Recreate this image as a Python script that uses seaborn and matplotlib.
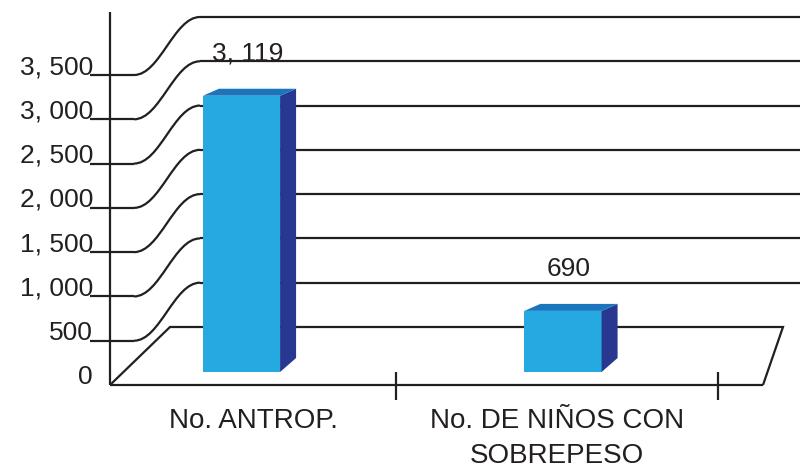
import numpy as np
import pandas as pd
import matplotlib
matplotlib.use("Agg")
import matplotlib.pyplot as plt
import seaborn as sns
from matplotlib.patches import Polygon, PathPatch
from matplotlib.path import Path
from matplotlib.transforms import IdentityTransform

# ---- data ----
categories = ["No. ANTROP.", "No. DE NIÑOS CON\nSOBREPESO"]
values = [3119, 690]
ytick_values = [0, 500, 1000, 1500, 2000, 2500, 3000, 3500]

sns.set_theme(style="white")
plt.rcParams["font.family"] = ["Liberation Sans", "DejaVu Sans"]

INK = "#231f20"
FRONT_C = "#25a9e0"
SIDE_C = "#283891"
TOP_C = "#1b75bc"
FS = 19

W, H = 800, 470
fig = plt.figure(figsize=(W / 100, H / 100), dpi=100)
fig.patch.set_facecolor("white")

# background axes in pixel coordinates for the pseudo-3D frame
bg = fig.add_axes([0, 0, 1, 1], zorder=0)
bg.set_xlim(0, W)
bg.set_ylim(H, 0)
bg.axis("off")

# bar axes (bar plane)
ax = fig.add_axes([80.75 / W, (H - 372) / H, 643 / W, 310 / H], zorder=1)
ax.patch.set_alpha(0)
df = pd.DataFrame({"cat": categories, "val": values})
sns.barplot(data=df, x="cat", y="val", color=FRONT_C, saturation=1,
            width=0.24, linewidth=0, edgecolor="none", errorbar=None, ax=ax)
ax.set_xlim(-0.5, 1.5)
ax.set_ylim(0, ytick_values[-1])
ax.axis("off")


def ypx(v):
    return H - ax.transData.transform((0, v))[1]


def xpx(c):
    return ax.transData.transform((c, 0))[0]


FRONT = 13    # front plane is lower than bar plane (pixels)
BACK = -45    # back wall is higher than bar plane (pixels)
LW = 1.6
LINE = dict(color=INK, lw=LW, solid_capstyle="butt", solid_joinstyle="miter")

x_axis = 110
x_floor_right = 763
y0f = ypx(0) + FRONT
y0b = ypx(0) + BACK

# vertical axis
bg.plot([x_axis, x_axis], [12, y0f], **LINE)

# tick lines, curved connectors and back-wall gridlines
for v in ytick_values[1:]:
    yf = ypx(v) + FRONT
    yb = ypx(v) + BACK
    bg.plot([90, 134], [yf, yf], **LINE)
    path = Path([(134, yf), (160, yf), (174, yb), (200, yb)],
                [Path.MOVETO, Path.CURVE4, Path.CURVE4, Path.CURVE4])
    bg.add_patch(PathPatch(path, fill=False, ec=INK, lw=LW))
    bg.plot([200, W], [yb, yb], **LINE)

# tick labels
for v in ytick_values:
    lab = f"{v:,}".replace(",", ", ")
    bg.text(93, ypx(v) + FRONT - 1, lab, ha="right", va="baseline",
            fontsize=FS, color=INK)

# floor
bg.plot([x_axis, x_floor_right], [y0f, y0f], **LINE)
bg.plot([x_axis, 170, 783, x_floor_right], [y0f, y0b, y0b, y0f], **LINE)

# category dividers on the front baseline
dividers = [xpx(c) - 6 for c in [0.5, 1.5]]
for xd in dividers:
    bg.plot([xd, xd], [y0f - 13, y0f + 15], **LINE)

# 3D faces for the bars
DX, DY, DB = 16, 7, 14
for p in list(ax.patches):
    x0, y0 = p.get_x(), p.get_y()
    x1, y1 = x0 + p.get_width(), y0 + p.get_height()
    (X0, Yb), (X1, Yt) = ax.transData.transform([(x0, y0), (x1, y1)])
    side = Polygon([(X1, Yt), (X1 + DX, Yt + DY), (X1 + DX, Yb + DB), (X1, Yb)],
                   closed=True, transform=IdentityTransform(), fc=SIDE_C,
                   ec="none", clip_on=False)
    top = Polygon([(X0, Yt), (X0 + DX, Yt + DY), (X1 + DX, Yt + DY), (X1, Yt)],
                  closed=True, transform=IdentityTransform(), fc=TOP_C,
                  ec="none", clip_on=False)
    ax.add_patch(side)
    ax.add_patch(top)

# value labels
for i, v in enumerate(values):
    bg.text(xpx(i) + 6, ypx(v) + BACK + 3, f"{v:,}".replace(",", ", "),
            ha="center", va="center", fontsize=FS, color=INK)

# category labels, centred within their baseline segments
edges = [x_axis] + dividers
for i, cat in enumerate(categories):
    xc = (edges[i] + edges[i + 1]) / 2
    bg.text(xc, 408, cat, ha="center", va="top", fontsize=20,
            color=INK, linespacing=1.45)

fig.savefig("out.png", dpi=100)
